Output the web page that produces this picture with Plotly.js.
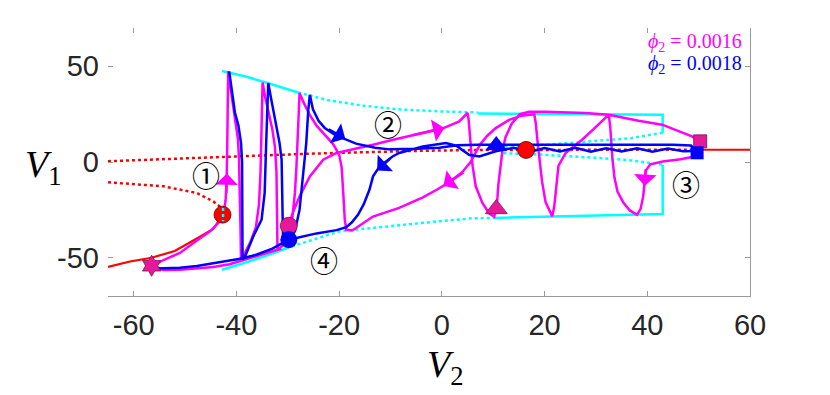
<!DOCTYPE html>
<html>
<head>
<meta charset="utf-8">
<script src="https://cdn.plot.ly/plotly-3.0.1.min.js"></script>
<style>
  html, body { margin: 0; padding: 0; background: #fff; }
  #plotDiv { width: 830px; height: 395px; }
</style>
</head>
<body>
<div id="plotDiv"></div>
<script>
// ---- data (V2 on x, V1 on y) ----

// red: branches of equilibria
const redDotUpX = [-65, -55, -45, -35, -25, -15, -5, 5, 20, 35, 50];
const redDotUpY = [0.4, 1.3, 2.4, 3.4, 4.4, 5.2, 5.8, 6.2, 6.4, 6.4, 6.4];
const redSolidRightX = [50, 60];
const redSolidRightY = [6.4, 6.4];
const redDotLowX = [-65, -60.7, -54.2, -47.7, -44.5, -42.9];
const redDotLowY = [-10.6, -11.5, -12.7, -16.2, -20.6, -24];
const redSolidLowX = [-65, -60.7, -56.5, -52, -47.7, -44.5, -42.8];
const redSolidLowY = [-54.8, -52, -50, -46.5, -40, -35, -28];

// cyan: limit cycle extrema
const cyanTopSolidX = [-42.8, -38, -33, -28];
const cyanTopSolidY = [47.5, 44.5, 40.5, 36.3];
const cyanTopDotX = [-28, -22, -15, -8, 0, 7];
const cyanTopDotY = [36.3, 32.2, 29.3, 27.4, 26.4, 25.9];
const cyanBoxTopX = [7, 43, 43];
const cyanBoxTopY = [25.3, 24.7, 15.3];
const cyanInUpDotX = [43, 37, 30, 26.7, 20.2, 12];
const cyanInUpDotY = [15.3, 12.5, 11, 10.2, 9, 8];
const cyanInLowDotX = [12, 19.6, 30.6, 37, 43];
const cyanInLowDotY = [4.6, 3.8, 2.1, 0.8, -1.4];
const cyanBoxLowX = [43, 43, 10.5];
const cyanBoxLowY = [-1.4, -27.2, -29.2];
const cyanLowDotX = [10.5, 6, 0, -7, -13, -19.9, -25, -30];
const cyanLowDotY = [-29.2, -29.4, -30.8, -32.7, -34.3, -36.2, -40.5, -44.8];
const cyanLowSolidX = [-30, -34, -38.5, -42.8];
const cyanLowSolidY = [-44.8, -48.8, -52.8, -56.3];
const cyanBitX = [-42.6, -42.6];
const cyanBitY = [-24, -31];

// magenta trajectory, phi2 = 0.0016
const magX = [
  -31.2, -35, -38.7, -41.3, -44.5, -47.7, -51, -54.2, -56.5,
  -54.2, -51, -47.7, -45, -43.4, -42.5, -42.1, -41.9, -41.8, -41.7, -41.6,
  -41.1, -40.6, -40.1, -39.7, -39.5, -39.3, -39.2, -39.1,
  -38.4, -37.3, -36.2, -35.6, -35.3, -35.1, -34.9,
  -34.4, -33.7, -33, -32.5, -32.2, -32.1, -32,
  -30.9, -29.9, -29.1, -28.6, -28.3, -28, -27.8, -27.7,
  -26.9, -25.8, -24.4, -22.8, -21.2, -20, -19.5, -19.2, -18.9, -18.6,
  -17.5, -16.7, -13.4, -8.3, -3.7, -1, 1.5, 4, 5.6, 6.5, 7.5, 8.8, 10.5, 13.1, 15.5, 18,
  18.3, 18.6, 19, 19.5, 20.2, 21.5,
  21.9, 22.2, 22.7, 24.1, 27.3, 29.5, 31.2, 32.5,
  32.8, 33, 33.2, 33.6, 34.2, 35.3, 36.6, 38,
  38.7, 39.2, 39.5, 39.7, 40.6, 43, 46.5, 48.7, 50, 50.3,
  48.7, 46, 42.9, 38.3, 35, 32.5, 28, 24.1, 20, 17,
  15.2, 13.6, 12.4, 11.8, 11.4, 11, 10.8, 10.4, 10.2,
  9.2, 7.9, 6.6, 6, 5.7, 5.4, 5.2, 5,
  3.4, 0.2, -3.5, -7, -10.5, -13.4, -16.5, -20.5, -23.1, -25.7, -27.7, -29.1, -29.8
];
const magY = [
  -45.2, -48.2, -51.5, -53.4, -54.8, -55.6, -56.3, -56.4, -54.5,
  -51.2, -47.5, -41, -36, -31.5, -27, -20, -9, 5, 25, 47.5,
  38, 28, 20, 12, 2, -15, -35, -51.5,
  -48, -42, -34, -22, -5, 15, 41.5,
  34, 26, 17, 8, -5, -25, -46,
  -43.5, -37, -29, -16, -2, 15, 28, 36,
  31, 25, 19, 14, 9.5, 4, -3, -16, -30, -35.4,
  -35.8, -34.5, -28.5, -24, -18.5, -14.5, -10.5, -5.2, 0, 4.5, 9.3, 13.6, 17.7, 22, 24.2, 24.9,
  20, 11.6, 2.9, -10, -21, -28.4,
  -23, -14.5, -2, 4.7, 11.6, 17, 21.5, 24.8,
  18, 10, 2, -8, -15.5, -21, -25.3, -27.6,
  -24.5, -18, -10, -4.5, -1.2, 0.3, 1.4, 2.6, 6, 10.8,
  13.4, 16.3, 19.5, 21.6, 23.4, 24.7, 25.6, 26, 26.3, 26.3,
  25, 20, 13, 6, -2.3, -12, -19.7, -26.5, -28.6,
  -26.8, -21.4, -12.7, -2.3, 6.4, 17, 22.5, 25.6,
  21.2, 17.6, 15.4, 13.4, 11, 9, 7.2, 4.7, 1.2, -7.5, -18, -27, -33.3
];

// blue trajectory, phi2 = 0.0018
const blueX = [
  -41.4, -40.9, -40.3, -39.6, -39.1, -38.9, -38.8, -38.8,
  -38.3, -36.7, -35.1, -34.5, -34.2, -34, -33.8,
  -33.2, -32.2, -31.6, -31.2, -31, -30.9,
  -29.8, -28.6, -27.7, -27, -26.4, -26, -25.7,
  -25.1, -24, -22.8, -21, -19.2, -16.7, -13, -10.2, -5, -0.5, 3, 7, 15, 25, 35, 45, 48.5, 49.6,
  47, 44, 41, 38, 35, 32, 29, 26, 23, 20, 17, 14, 10.5, 7.3, 5.3, 2.8, 0.8, -3.7, -8.3,
  -9.6, -12.1, -13.4, -14.1, -15.2, -16.3, -17.5, -18.6, -20.5, -24.4, -27.5, -29.8,
  -33, -36, -38.7, -41.3, -44.5, -47.7, -51, -54.2, -55.8
];
const blueY = [
  47.3, 37, 26, 19, 10, 0, -25, -51,
  -49.3, -38.8, -30.1, -16.2, 10, 30, 41.3,
  32.5, 18.6, 9.9, 1.2, -20, -43,
  -40.6, -36.2, -24.9, -7.5, 9.9, 27.3, 35.1,
  27.5, 21.5, 17.8, 14.6, 12.3, 9.6, 7.4, 6.6, 6.9, 7.5, 8.8, 9, 9, 9, 9, 9, 8.6, 5.8,
  5.6, 7, 5.4, 7.2, 5.5, 7.2, 5.4, 7.4, 5.5, 7.3, 5.3, 7.4, 5.6, 2.9, 3.8, 8.5, 9.9, 8.1, 4.7,
  2.9, -2.3, -7.5, -14.5, -22, -27.5, -31.5, -34, -35.6, -37.3, -39, -40.6,
  -45.3, -48.3, -50.3, -51.5, -53, -54.3, -55.2, -55.6, -55.6
];

// special points
const redPtX = [-42.7, 16.4];
const redPtY = [-27.5, 6.3];
const pinkCircle = [-29.8, -33.3];
const pinkTriangle = [10.6, -24.5];
const pinkSquare = [50.3, 10.8];
const pinkStar = [-56.5, -54.2];
const blueCircle = [-29.8, -40.6];
const blueTriangle = [10.6, 8.6];
const blueSquare = [49.7, 4.8];

// direction arrows: [headX, headY, tailX, tailY, colour]
const arrows = [
  [-41.85, -6, -41.95, -17, 'magenta'],
  [-18.8, 12.2, -22.3, 17.5, 'blue'],
  [0.5, 17.8, -6, 13.8, 'magenta'],
  [-12.6, -4.5, -9.8, 2.5, 'blue'],
  [0.3, -12.5, 4.5, -5, 'magenta'],
  [39.5, -12.5, 39.7, -3, 'magenta']
];

// circled labels
const labelText = ['\u2460', '\u2461', '\u2462', '\u2463'];
const labelX = [-45.9, -10.4, 47.5, -23];
const labelY = [-6.6, 20, -11.3, -51];

const xTicks = [-60, -40, -20, 0, 20, 40, 60];
const yTicks = [-50, 0, 50];

const PINK = 'rgb(230,25,153)';
const PINK_EDGE = 'rgb(120,20,80)';

function line(x, y, color, dash, width, axes) {
  const t = {
    x: x, y: y, mode: 'lines', hoverinfo: 'skip',
    line: {color: color, width: width || 2.5, dash: dash || 'solid'}
  };
  if (axes) { t.xaxis = 'x2'; t.yaxis = 'y2'; }
  return t;
}

function marker(x, y, symbol, size, color, edge) {
  return {
    x: x, y: y, mode: 'markers', xaxis: 'x2', yaxis: 'y2', hoverinfo: 'skip',
    marker: {symbol: symbol, size: size, color: color,
             line: {color: edge || color, width: edge ? 0.8 : 0}}
  };
}

const traces = [
  line(redDotUpX, redDotUpY, 'red', 'dot', 2.5),
  line(redDotLowX, redDotLowY, 'red', 'dot', 2.5),
  line(redSolidLowX, redSolidLowY, 'red', 'solid', 2.2),
  line(redSolidRightX, redSolidRightY, 'red', 'solid', 2.2),
  line(cyanTopSolidX, cyanTopSolidY, 'cyan', 'solid', 2.5),
  line(cyanTopDotX, cyanTopDotY, 'cyan', 'dot', 2.5),
  line(cyanBoxTopX, cyanBoxTopY, 'cyan', 'solid', 2.5),
  line(cyanInUpDotX, cyanInUpDotY, 'cyan', 'dot', 2.5),
  line(cyanInLowDotX, cyanInLowDotY, 'cyan', 'dot', 2.5),
  line(cyanBoxLowX, cyanBoxLowY, 'cyan', 'solid', 2.5),
  line(cyanLowDotX, cyanLowDotY, 'cyan', 'dot', 2.5),
  line(cyanLowSolidX, cyanLowSolidY, 'cyan', 'solid', 2.5),
  line(magX, magY, 'magenta', 'solid', 2.5),
  line(blueX, blueY, 'blue', 'solid', 2.5),
  // markers sit on the overlay axes so they are drawn on top
  marker(redPtX, redPtY, 'circle', 17, 'red', 'rgb(90,0,0)'),
  line(cyanBitX, cyanBitY, 'cyan', 'dot', 2.5, true),
  marker([pinkCircle[0]], [pinkCircle[1]], 'circle', 17, PINK, PINK_EDGE),
  marker([blueCircle[0]], [blueCircle[1]], 'circle', 17, 'blue'),
  marker([pinkTriangle[0]], [pinkTriangle[1]], 'triangle-up', 19, PINK, PINK_EDGE),
  marker([blueTriangle[0]], [blueTriangle[1]], 'triangle-up', 19, 'blue'),
  marker([pinkSquare[0]], [pinkSquare[1]], 'square', 13, PINK, PINK_EDGE),
  marker([blueSquare[0]], [blueSquare[1]], 'square', 13, 'blue'),
  marker([pinkStar[0]], [pinkStar[1]], 'hexagram', 16, PINK, PINK_EDGE)
];

const annotations = [];
arrows.forEach(a => {
  annotations.push({
    x: a[0], y: a[1], ax: a[2], ay: a[3],
    xref: 'x', yref: 'y', axref: 'x', ayref: 'y',
    text: '', showarrow: true, arrowhead: 1, arrowsize: 1.5,
    arrowwidth: 2.5, arrowcolor: a[4]
  });
});
labelText.forEach((t, i) => {
  annotations.push({
    x: labelX[i], y: labelY[i], xref: 'x', yref: 'y', text: t, showarrow: false,
    xanchor: 'center', yanchor: 'middle',
    font: {family: 'Noto Sans CJK JP', size: 28, color: '#000'}
  });
});
annotations.push(
  {x: 60, y: 62.3, xref: 'x', yref: 'y', xanchor: 'right', yanchor: 'middle', xshift: -6,
   showarrow: false, text: '<i>\u03D5</i><sub>2</sub> = 0.0016',
   font: {family: 'Liberation Serif', size: 20, color: 'magenta'}},
  {x: 60, y: 51, xref: 'x', yref: 'y', xanchor: 'right', yanchor: 'middle', xshift: -6,
   showarrow: false, text: '<i>\u03D5</i><sub>2</sub> = 0.0018',
   font: {family: 'Liberation Serif', size: 20, color: 'blue'}},
  {x: -0.101, y: 0.48, xref: 'paper', yref: 'paper', xanchor: 'center', yanchor: 'middle',
   showarrow: false, text: '<i>V</i><sub>1</sub>',
   font: {family: 'Liberation Serif', size: 38, color: '#000'}},
  {x: 0.525, y: -0.265, xref: 'paper', yref: 'paper', xanchor: 'center', yanchor: 'middle',
   showarrow: false, text: '<i>V</i><sub>2</sub>',
   font: {family: 'Liberation Serif', size: 38, color: '#000'}}
);

const AXIS_GREY = '#9a9a9a';
const tickFont = {family: 'Liberation Sans, Arial, sans-serif', size: 29, color: '#262626'};

const layout = {
  width: 830, height: 395,
  margin: {l: 108, r: 80, t: 28, b: 99},
  paper_bgcolor: 'white', plot_bgcolor: 'white',
  showlegend: false,
  xaxis: {
    range: [-65, 60], tickvals: xTicks, ticktext: xTicks.map(String),
    showgrid: false, zeroline: false, showline: true, linecolor: AXIS_GREY, linewidth: 1,
    ticks: 'inside', ticklen: 5, tickcolor: AXIS_GREY, tickfont: tickFont,
    ticklabelstandoff: 3
  },
  yaxis: {
    range: [-70, 70], tickvals: yTicks, ticktext: yTicks.map(String),
    showgrid: false, zeroline: false, showline: false,
    ticks: 'inside', ticklen: 5, tickcolor: AXIS_GREY, tickfont: tickFont,
    ticklabelstandoff: 8
  },
  xaxis2: {
    range: [-65, 60], overlaying: 'x', side: 'top', tickvals: xTicks,
    showgrid: false, zeroline: false, showline: false, showticklabels: false,
    ticks: 'inside', ticklen: 5, tickcolor: AXIS_GREY
  },
  yaxis2: {
    range: [-70, 70], overlaying: 'y', side: 'right', tickvals: yTicks,
    showgrid: false, zeroline: false, showline: true, linecolor: AXIS_GREY, linewidth: 1,
    showticklabels: false, ticks: 'inside', ticklen: 5, tickcolor: AXIS_GREY
  },
  annotations: annotations
};

Plotly.newPlot('plotDiv', traces, layout, {staticPlot: true, displayModeBar: false});
</script>
</body>
</html>
